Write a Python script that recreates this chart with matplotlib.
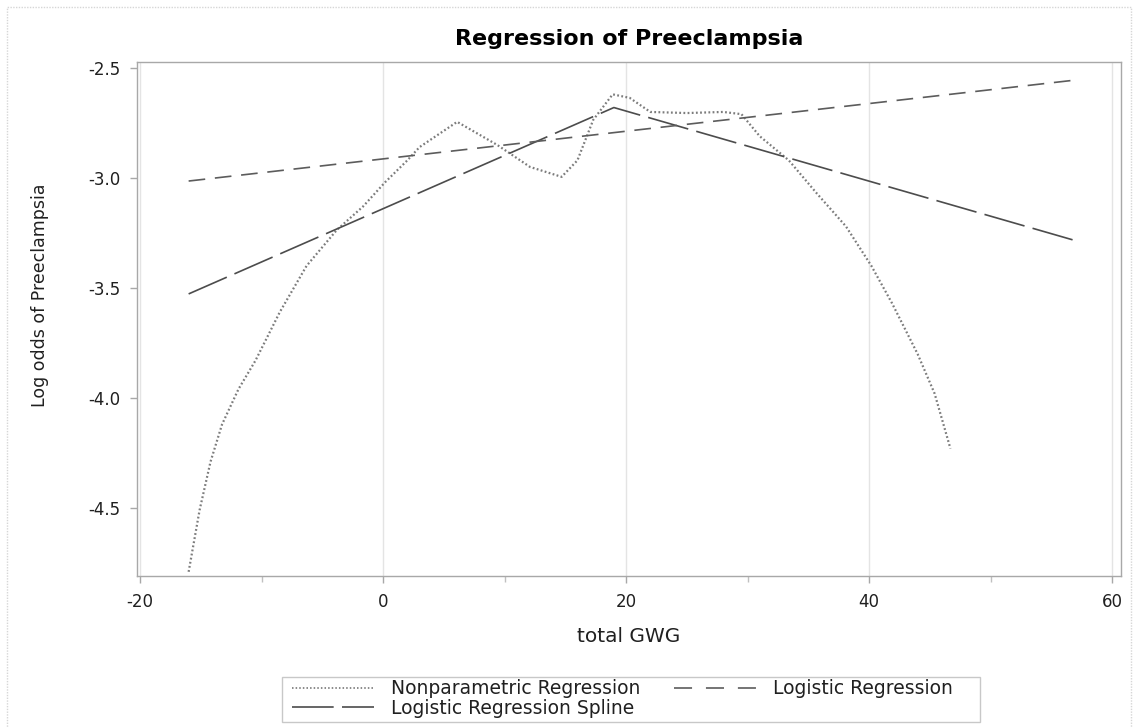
import matplotlib
matplotlib.use('Agg')
import matplotlib.pyplot as plt
from matplotlib.patches import Rectangle
from matplotlib.lines import Line2D

plt.rcParams['font.family'] = ['DejaVu Sans']
plt.rcParams['axes.unicode_minus'] = False
plt.rcParams['lines.scale_dashes'] = False

# ---- data ----
np_x = [-16, -15.1, -14.2, -13.25, -11.9, -10.5, -8.5, -6.3, -3.8, -1.65, 0.16, 2.0, 3.0,
        6.1, 9.4, 12.1, 14.7, 16.0, 17.3, 18.9, 20.3, 22.0, 25.0, 28.0, 29.5, 31.0, 33.4,
        35.7, 38.1, 40.2, 41.9, 44.0, 45.4, 46.7]
np_y = [-4.79, -4.51, -4.29, -4.12, -3.96, -3.83, -3.61, -3.40, -3.236, -3.13, -3.02, -2.92, -2.86,
        -2.745, -2.85, -2.95, -2.995, -2.92, -2.736, -2.62, -2.636, -2.70, -2.705, -2.70, -2.71, -2.81, -2.92,
        -3.07, -3.22, -3.40, -3.57, -3.80, -3.98, -4.23]

lr_x = [-16, 57]
lr_y = [-3.014, -2.555]

sp_x = [-16, 19, 57]
sp_y = [-3.527, -2.68, -3.285]

x_ticks = [-20, 0, 20, 40, 60]
x_minor = [-10, 10, 30, 50]
y_ticks = [-4.5, -4.0, -3.5, -3.0, -2.5]
y_labels = ['-4.5', '-4.0', '-3.5', '-3.0', '-2.5']

title = 'Regression of Preeclampsia'
xlabel = 'total GWG'
ylabel = 'Log odds of Preeclampsia'
labels = ['Nonparametric Regression', 'Logistic Regression Spline', 'Logistic Regression']

# ---- figure ----
W, H = 1138, 728
fig = plt.figure(figsize=(W / 100, H / 100), dpi=100)
fig.patch.set_facecolor('white')

ax = fig.add_axes([137 / W, 1 - 576 / H, (1121 - 137) / W, (576 - 62) / H])

np_style = dict(color='#7c7c7c', lw=1.6, dashes=(1.3, 1.7))
sp_style = dict(color='#4c4c4c', lw=1.2, dashes=(30, 6))
lr_style = dict(color='#5c5c5c', lw=1.2, dashes=(12, 7))

ax.plot(np_x, np_y, **np_style)
ax.plot(sp_x, sp_y, **sp_style)
ax.plot(lr_x, lr_y, **lr_style)

ax.set_xlim(-20.25, 60.74)
ax.set_ylim(-4.809, -2.473)
ax.set_xticks(x_ticks)
ax.set_xticks(x_minor, minor=True)
ax.set_yticks(y_ticks)
ax.set_yticklabels(y_labels)
ax.grid(axis='x', which='major', color='#e4e4e4', lw=1.0)
ax.set_axisbelow(True)
for s in ax.spines.values():
    s.set_color('#a8a8a8')
    s.set_linewidth(1.0)
ax.tick_params(which='major', length=5, width=1, color='#a8a8a8', labelsize=12,
               labelcolor='#202020')
ax.tick_params(axis='x', which='major', pad=7)
ax.tick_params(axis='y', which='major', pad=7)
ax.tick_params(axis='x', which='minor', length=4, width=1, color='#c0c0c0')

fig.text(629 / W, 1 - 39 / H, title, ha='center', va='center', fontsize=16,
         fontweight='bold', color='#000000')
fig.text(629 / W, 1 - 636 / H, xlabel, ha='center', va='center', fontsize=14.5, color='#202020')
fig.text(40 / W, 1 - 295 / H, ylabel, ha='center', va='center', rotation=90,
         fontsize=12.5, color='#202020')

# legend proxies (dash patterns fitted to the sample length)
h_np = Line2D([], [], color='#8a8a8a', lw=1.4, dashes=(1.1, 1.5))
h_sp = Line2D([], [], color='#4c4c4c', lw=1.2, dashes=(30, 6))
h_lr = Line2D([], [], color='#5c5c5c', lw=1.2, dashes=(13, 10))

# legend frame drawn at the reference position, entries placed inside
fig.patches.append(Rectangle((282 / W, 1 - 722 / H), (980 - 282) / W, (722 - 677) / H,
                             transform=fig.transFigure, fill=False, edgecolor='#c8c8c8',
                             lw=1.0, zorder=5))
leg = fig.legend([h_np, h_sp, h_lr], labels, ncol=2, loc='upper left',
                 bbox_to_anchor=(292 / W, 1 - 679.5 / H), frameon=False,
                 fontsize=13.5, handlelength=4.37, handletextpad=0.9,
                 columnspacing=1.8, borderpad=0.0, labelspacing=0.0, borderaxespad=0)
for t in leg.get_texts():
    t.set_color('#202020')

fig.patches.append(Rectangle((7 / W, -0.01), (1131 - 7) / W, (728 - 7) / H + 0.01,
                             transform=fig.transFigure, fill=False, edgecolor='#d6d6d6',
                             lw=1.0, ls=(0, (1, 1))))

fig.savefig('out.png', dpi=100)
